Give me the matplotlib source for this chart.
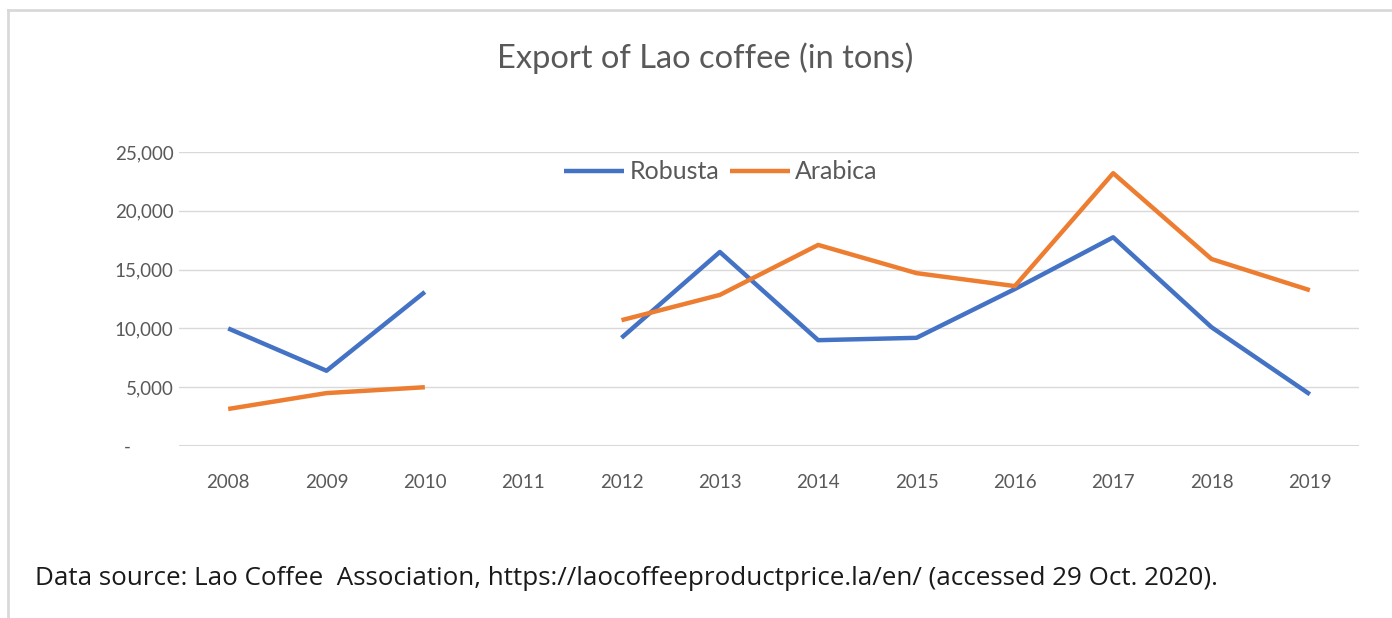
import matplotlib.pyplot as plt
import numpy as np
from matplotlib.lines import Line2D
from matplotlib.ticker import FuncFormatter

plt.rcParams['font.family'] = ['Lato', 'DejaVu Sans']

# export volumes in tons, 2011 has no data
years = ['2008', '2009', '2010', '2011', '2012', '2013', '2014', '2015', '2016', '2017', '2018', '2019']
robusta = [10000, 6400, 13100, np.nan, 9200, 16500, 9000, 9200, 13350, 17750, 10100, 4400]
arabica = [3150, 4500, 5000, np.nan, 10700, 12850, 17100, 14700, 13600, 23200, 15900, 13250]

grey_text = '#595959'
grid_col = '#d9d9d9'

fig = plt.figure(figsize=(13.92, 6.18), dpi=100)
ax = fig.add_axes([0.1286, 0.2783, 0.8477, 0.4757])

x = np.arange(len(years))
ax.plot(x, robusta, color='#4472c4', lw=3.2, label='Robusta', solid_capstyle='butt')
ax.plot(x, arabica, color='#ed7d31', lw=3.2, label='Arabica', solid_capstyle='butt')

ax.set_xlim(-0.5, len(years) - 0.5)
ax.set_ylim(0, 25000)
ax.set_yticks(np.arange(0, 25001, 5000))
ax.yaxis.set_major_formatter(FuncFormatter(lambda v, p: '-         ' if v == 0 else f'{int(v):,}'))
ax.set_xticks(x)
ax.set_xticklabels(years)

ax.grid(axis='y', color=grid_col, lw=1)
ax.set_axisbelow(True)
for s in ax.spines.values():
    s.set_visible(False)
ax.axhline(0, color=grid_col, lw=1.5, zorder=0)
ax.tick_params(axis='both', length=0, labelsize=13.5, labelcolor=grey_text)
ax.tick_params(axis='x', pad=20)
ax.tick_params(axis='y', pad=4)

fig.text(0.5065, 0.906, 'Export of Lao coffee (in tons)', ha='center', va='center',
         fontsize=23.5, color=grey_text)

fig.legend(loc='center', bbox_to_anchor=(0.518, 0.722), ncol=2, frameon=False,
           fontsize=18, handlelength=2.4, handletextpad=0.2, columnspacing=0.45,
           labelcolor=grey_text)

fig.text(0.025, 0.064, 'Data source: Lao Coffee  Association, https://laocoffeeproductprice.la/en/ (accessed 29 Oct. 2020).',
         ha='left', va='center', fontsize=18.7, color='#1a1a1a', family='Open Sans')

# thin frame along the top and left edges
fig.add_artist(Line2D([0.0057, 1.0], [0.984, 0.984], color=grid_col, lw=2, transform=fig.transFigure))
fig.add_artist(Line2D([0.0057, 0.0057], [0.0, 0.984], color=grid_col, lw=2, transform=fig.transFigure))

fig.savefig('out.png', dpi=100)
